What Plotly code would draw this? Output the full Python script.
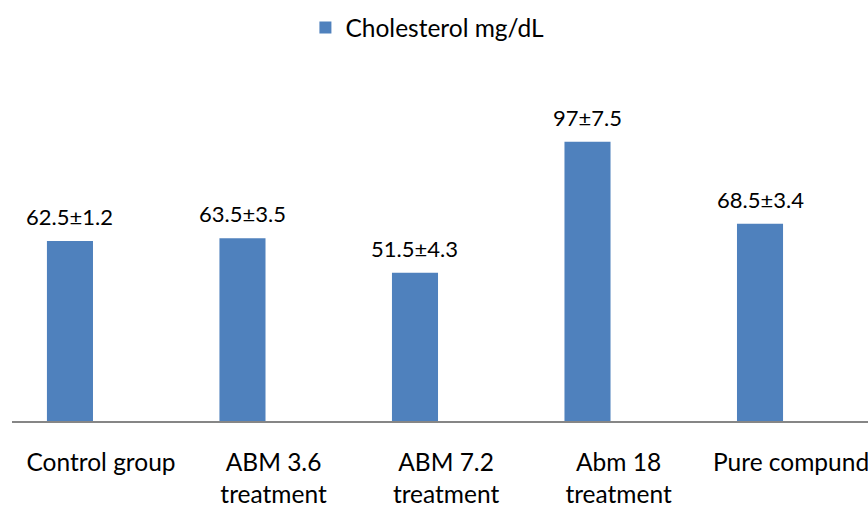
import plotly.graph_objects as go

categories = ["Control group", "ABM 3.6<br>treatment", "ABM 7.2<br>treatment",
              "Abm 18<br>treatment", "Pure compund"]
values = [62.5, 63.5, 51.5, 97, 68.5]
labels = ["62.5±1.2", "63.5±3.5", "51.5±4.3", "97±7.5", "68.5±3.4"]
series_name = "Cholesterol mg/dL"

FONT = "Lato, Open Sans, sans-serif"
FS_LABEL = 22
FS_AXIS = 24.5

BAR_W = 0.267
BAR_SHIFT = -0.18  # bars sit left of the category label centre
x_idx = list(range(len(categories)))

fig = go.Figure()
fig.add_trace(go.Bar(
    x=x_idx, y=values, name=series_name,
    marker=dict(color="#4F81BD", line=dict(width=0)),
    width=BAR_W, offset=BAR_SHIFT - BAR_W / 2, showlegend=True,
))

for i, (v, t) in enumerate(zip(values, labels)):
    fig.add_annotation(x=i + BAR_SHIFT, y=v, xref="x", yref="y", text=t, showarrow=False,
                       yanchor="bottom", yshift=9,
                       font=dict(size=FS_LABEL, color="#000000", family=FONT))

fig.update_layout(
    width=868, height=506,
    margin=dict(l=12, r=0, t=60, b=85, autoexpand=False),
    paper_bgcolor="white", plot_bgcolor="white",
    font=dict(family=FONT, size=FS_AXIS, color="#000000"),
    showlegend=True,
    legend=dict(orientation="h", x=0.4853, xanchor="center", y=0.99, yref="container",
                yanchor="top", font=dict(size=FS_AXIS), itemwidth=30,
                bgcolor="rgba(0,0,0,0)"),
    xaxis=dict(
        tickmode="array", tickvals=x_idx, ticktext=categories,
        range=[-0.516, 4.446], showgrid=False, zeroline=False, automargin=False,
        showline=True, linecolor="#868686", linewidth=2, ticklabeloverflow="allow",
        ticks="", ticklabelstandoff=19, tickfont=dict(size=FS_AXIS),
    ),
    yaxis=dict(range=[0, 125.4], visible=False, showgrid=False, zeroline=False,
               automargin=False),
)

fig.write_html("out.html", config={"displayModeBar": False},
               post_script="document.body.style.margin='0';document.body.style.padding='0';")
